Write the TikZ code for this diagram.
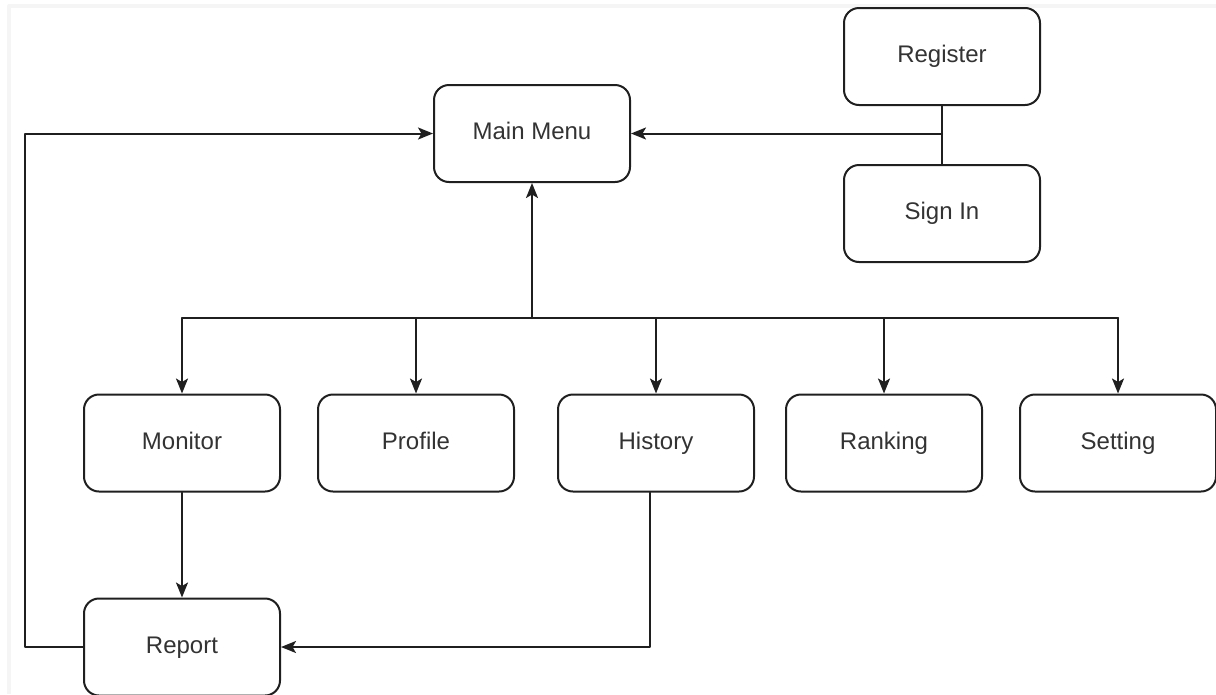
\documentclass[tikz,border=0pt]{standalone}
\usepackage{fontspec}
\setmainfont{Liberation Sans}
\usepackage{pgf,tikz}
\usetikzlibrary{arrows.meta}
\definecolor{zzzzzz}{rgb}{0.2,0.2,0.2}
\definecolor{sqsqsq}{rgb}{0.12,0.12,0.12}
\definecolor{fsfsfs}{rgb}{0.96,0.96,0.96}
\begin{document}
\begin{tikzpicture}[line cap=round,line join=round,>={Stealth[length=15pt,width=12pt,inset=3.5pt]},x=1.0pt,y=-1.0pt,
    menubox/.style={draw=sqsqsq,line width=2pt,rounded corners=15pt,fill=white,
      minimum width=196pt,minimum height=97pt,text=zzzzzz,text height=17pt,text depth=5pt,
      font=\fontsize{24}{28}\selectfont}]
      \useasboundingbox (0,0) rectangle (1216,694);
      \draw[color=fsfsfs,line width=4pt,line cap=butt] (9,694) -- (9,6) -- (1216,6);
      \node[menubox] (register) at (942,56.5) {Register};
      \node[menubox] (signin) at (942,213.5) {Sign In};
      \node[menubox] (mainmenu) at (532,133.5) {Main Menu};
      \node[menubox] (monitor) at (182,443) {Monitor};
      \node[menubox] (profile) at (416,443) {Profile};
      \node[menubox] (history) at (656,443) {History};
      \node[menubox] (ranking) at (884,443) {Ranking};
      \node[menubox] (setting) at (1118,443) {Setting};
      \node[menubox] (report) at (182,647) {Report};
      \coordinate (bus) at (532,318);
      \begin{scope}[color=sqsqsq,line width=2pt]
      \draw (register) -- (signin);
      \draw[->] (register.south |- mainmenu.east) -- (mainmenu.east);
      \draw[->] (bus) -- (mainmenu.south);
      \draw (monitor.north |- bus) -- (setting.north |- bus);
      \foreach \n in {monitor,profile,history,ranking,setting}
      \draw[->] (\n.north |- bus) -- (\n.north);
      \draw[->] (monitor) -- (report);
      \draw[->] ([xshift=-6pt]history.south) |- (report.east);
      \draw[->] (report.west) -- ++(-58,0) |- (mainmenu.west);
      \end{scope}
    \end{tikzpicture}
\end{document}
